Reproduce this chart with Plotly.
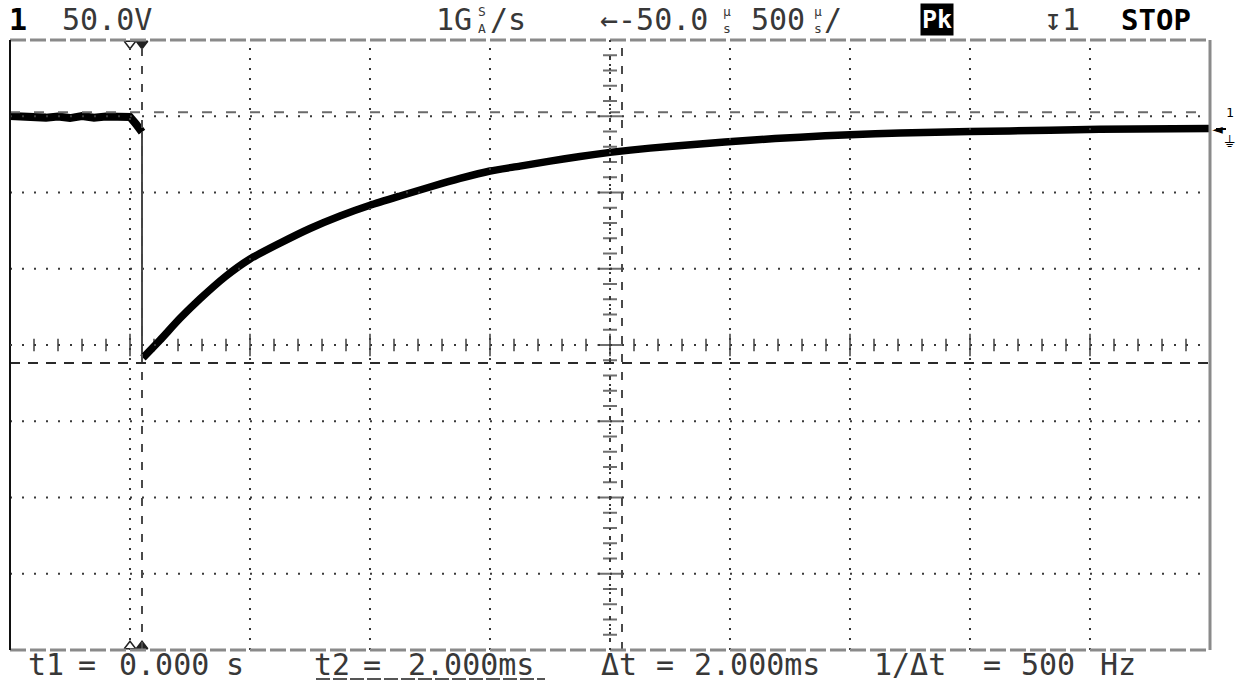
import plotly.graph_objects as go

# ---------------- data (read from the screen) ----------------
# time in ms (t1 cursor / trigger = 0), voltage in V (50 V/div, 500 us/div)
T_PRE = [-0.55, -0.50, -0.45, -0.40, -0.35, -0.30, -0.25, -0.20, -0.15, -0.10, -0.05, -0.025, 0.0]
V_PRE = [8.5, 7.9, 8.5, 7.5, 8.2, 7.2, 8.5, 7.5, 8.2, 7.9, 7.9, 3.3, -2.0]

T_DROP = [0.0, 0.0]
V_DROP = [-2.0, -153.0]

T_POST = [0.004, 0.075, 0.158, 0.242, 0.346, 0.45, 0.575, 0.70, 0.825, 0.95, 1.075, 1.20,
          1.325, 1.45, 1.575, 1.70, 1.825, 1.95, 2.117, 2.325, 2.533, 2.742, 2.95, 3.158,
          3.45, 3.783, 3.99, 4.45]
V_POST = [-150.0, -138.4, -124.2, -111.3, -96.9, -85.2, -74.8, -65.2, -57.0, -50.0, -43.9, -38.0,
          -32.4, -27.5, -24.3, -21.0, -18.0, -15.3, -12.5, -9.8, -7.3, -5.3, -3.7, -2.6,
          -1.6, -0.8, -0.2, 0.3]

# screen settings
T_LEFT = -0.55          # ms at left edge
T_DIV = 0.5             # ms per division (500 us/div)
N_XDIV = 10
V_CENTER = -141.6       # V at screen centre
V_DIV = 50.0            # V per division
N_YDIV = 8
T1, T2 = 0.0, 2.0       # time cursors (ms)
V_CUR_HI, V_CUR_LO = 11.1, -153.4

TOP_LABELS = ["1", "50.0V", "1G", "/s", "\u2190-50.0", "500", "/", "Pk", "\u21a71", "STOP"]
BOTTOM_LABELS = ["t1", "=", "0.000", "s", "t2", "=", "2.000ms", "\u0394t", "=", "2.000ms",
                 "1/\u0394t", "=", "500", "Hz"]

# ---------------- geometry ----------------
W, H = 1236, 681
ML, MR, MT, MB = 10, 26, 40, 31
PW, PH = W - ML - MR, H - MT - MB
T_RIGHT = T_LEFT + N_XDIV * T_DIV
V_TOP = V_CENTER + N_YDIV / 2 * V_DIV
V_BOT = V_CENTER - N_YDIV / 2 * V_DIV


def fx(px):
    return (px - ML) / PW


def fy(py):
    return (H - MB - py) / PH


fig = go.Figure()

shapes = []
GRID = "#3a3a3a"
# grid lines
for k in range(1, N_XDIV):
    t = T_LEFT + k * T_DIV
    shapes.append(dict(type="line", xref="x", yref="paper", x0=t, x1=t, y0=0, y1=1,
                       line=dict(color=GRID, width=2, dash="2px,8px")))
for k in range(1, N_YDIV):
    v = V_BOT + k * V_DIV
    shapes.append(dict(type="line", xref="paper", yref="y", x0=0, x1=1, y0=v, y1=v,
                       line=dict(color=GRID, width=2, dash="2px,10px")))

# cursors
for t in (T1, T2):
    shapes.append(dict(type="line", xref="x", yref="paper", x0=t, x1=t, y0=0, y1=1,
                       line=dict(color="#4a4a4a", width=2, dash="8px,10px")))
shapes.append(dict(type="line", xref="paper", yref="y", x0=0, x1=1, y0=V_CUR_HI, y1=V_CUR_HI,
                   line=dict(color="#6a6a6a", width=2, dash="10px,14px")))
shapes.append(dict(type="line", xref="paper", yref="y", x0=0, x1=1, y0=V_CUR_LO, y1=V_CUR_LO,
                   line=dict(color="#2a2a2a", width=2, dash="10px,8px")))

# frame
shapes.append(dict(type="line", xref="paper", yref="paper", x0=0, x1=1, y0=1, y1=1,
                   line=dict(color="#8a8a8a", width=3, dash="16px,4px")))
shapes.append(dict(type="line", xref="paper", yref="paper", x0=0, x1=1, y0=0, y1=0,
                   line=dict(color="#8a8a8a", width=3, dash="16px,4px")))
shapes.append(dict(type="line", xref="paper", yref="paper", x0=0, x1=0, y0=0, y1=1,
                   line=dict(color="#111111", width=2)))
shapes.append(dict(type="line", xref="paper", yref="paper", x0=1, x1=1, y0=0, y1=1,
                   line=dict(color="#8a8a8a", width=3)))
# underline of the active cursor readout
shapes.append(dict(type="line", xref="paper", yref="paper", x0=fx(316), x1=fx(545),
                   y0=fy(679), y1=fy(679), line=dict(color="#555555", width=2, dash="14px,3px")))
# stem of the ground marker arrow
shapes.append(dict(type="line", xref="paper", yref="paper", x0=fx(1216), x1=fx(1226),
                   y0=fy(129), y1=fy(129), line=dict(color="#000000", width=2)))

# centre axes (dotted) with minor ticks
tc = T_LEFT + N_XDIV / 2 * T_DIV
shapes.append(dict(type="line", xref="x", yref="paper", x0=tc, x1=tc, y0=0, y1=1,
                   line=dict(color=GRID, width=2, dash="2px,6px")))
shapes.append(dict(type="line", xref="paper", yref="y", x0=0, x1=1, y0=V_CENTER, y1=V_CENTER,
                   line=dict(color=GRID, width=2, dash="2px,10px")))

minor_t = [T_LEFT + j * T_DIV / 5 for j in range(1, N_XDIV * 5)]
minor_v = [V_BOT + j * V_DIV / 5 for j in range(1, N_YDIV * 5)]
tick_style = dict(color="#333333", width=2)
fig.add_trace(go.Scatter(x=minor_t, y=[V_CENTER] * len(minor_t), mode="markers",
                         marker=dict(symbol="line-ns", size=[16 if j % 5 == 0 else 9 for j in range(1, N_XDIV * 5)],
                                     line=tick_style), hoverinfo="skip"))
fig.add_trace(go.Scatter(x=[tc] * len(minor_v), y=minor_v, mode="markers",
                         marker=dict(symbol="line-ew", size=[18 if j % 5 == 0 else 10 for j in range(1, N_YDIV * 5)],
                                     line=tick_style), hoverinfo="skip"))

# waveform
fig.add_trace(go.Scatter(x=T_PRE, y=V_PRE, mode="lines", line=dict(color="#000000", width=8),
                         hoverinfo="skip"))
fig.add_trace(go.Scatter(x=T_DROP, y=V_DROP, mode="lines", line=dict(color="#444444", width=2),
                         hoverinfo="skip"))
fig.add_trace(go.Scatter(x=T_POST, y=V_POST, mode="lines", line=dict(color="#000000", width=7.5, shape="spline", smoothing=0.6),
                         hoverinfo="skip"))

# cursor / trigger markers at top and bottom edge
t_trig_mark = T_LEFT + T_DIV  # open marker on first gridline
dv = V_DIV * 0.05
fig.add_trace(go.Scatter(x=[t_trig_mark, T1], y=[V_TOP - dv, V_TOP - dv], mode="markers", cliponaxis=False,
                         marker=dict(symbol=["triangle-down-open", "triangle-down"], size=10,
                                     color="#222222", line=dict(color="#222222", width=1.5)),
                         hoverinfo="skip"))
fig.add_trace(go.Scatter(x=[t_trig_mark, T1], y=[V_BOT + dv, V_BOT + dv], mode="markers", cliponaxis=False,
                         marker=dict(symbol=["triangle-up-open", "triangle-up"], size=10,
                                     color="#222222", line=dict(color="#222222", width=1.5)),
                         hoverinfo="skip"))

FONT = "DejaVu Sans Mono"
TXT = "#383838"
anns = []
SHIFT = 4  # annotation padding / side bearing compensation


def ann(text, px, py, size=30, color=TXT, anchor="left", bg=None, fam=FONT):
    x = px - SHIFT if anchor == "left" else px
    d = dict(text=text, xref="paper", yref="paper", x=fx(x), y=fy(py), xanchor=anchor,
             yanchor="middle", showarrow=False, font=dict(family=fam, size=size, color=color))
    if bg:
        d["bgcolor"] = bg
        d["borderpad"] = 1
    anns.append(d)


# top status line
ann("<b>" + TOP_LABELS[0] + "</b>", 11, 20, color="#000000")
ann(TOP_LABELS[1], 64, 20)
ann(TOP_LABELS[2], 438, 20)
ann("S<br>A", 482, 20, size=13, anchor="center")
ann(TOP_LABELS[3], 492, 20)
ann(TOP_LABELS[4], 602, 20)
ann("\u00b5<br>s", 727, 20, size=13, anchor="center")
ann(TOP_LABELS[5], 753, 20)
ann("\u00b5<br>s", 818, 20, size=13, anchor="center")
ann(TOP_LABELS[6], 826, 20)
ann("<b>" + TOP_LABELS[7] + "</b>", 924, 20, size=25, color="#ffffff", bg="#000000")
ann(TOP_LABELS[8], 1046, 20)
ann("<b>" + TOP_LABELS[9] + "</b>", 1123, 20, color="#000000", size=29)

# bottom readouts
bx = [30, 80, 121, 228, 316, 365, 410, 603, 658, 696, 876, 985, 1023, 1102]
for s, x in zip(BOTTOM_LABELS, bx):
    ann(s, x, 664)

# channel 1 ground marker on the right
ann("\u25c4", 1217, 129, size=14, color="#000000", fam="DejaVu Sans", anchor="center")
ann("1", 1230, 113, size=13, color="#000000", anchor="center")
ann("\u23da", 1229, 141, size=16, color="#000000", fam="DejaVu Sans", anchor="center")

fig.update_layout(
    width=W, height=H,
    margin=dict(l=ML, r=MR, t=MT, b=MB),
    paper_bgcolor="#ffffff", plot_bgcolor="#ffffff",
    showlegend=False,
    xaxis=dict(range=[T_LEFT, T_RIGHT], visible=False, fixedrange=True),
    yaxis=dict(range=[V_BOT, V_TOP], visible=False, fixedrange=True),
    shapes=shapes,
    annotations=anns,
)

fig.write_html("out.html")
